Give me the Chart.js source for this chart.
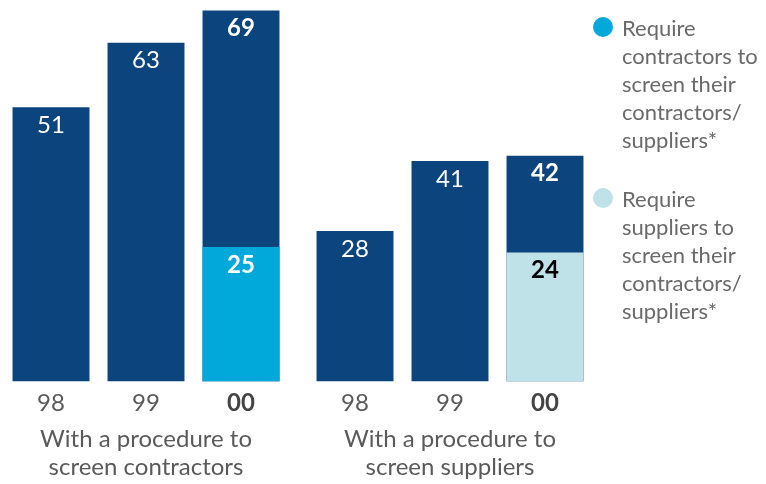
<!DOCTYPE html>
<html>
<head>
<meta charset="utf-8">
<script src="https://cdn.jsdelivr.net/npm/chart.js@4"></script>
<style>
  html, body { margin: 0; padding: 0; background: #ffffff; }
  #wrap { position: relative; width: 766px; height: 484px; overflow: hidden; font-family: Lato, "Open Sans", sans-serif; }
  .cv { position: absolute; top: 0; }
  #legend { position: absolute; left: 592px; top: 14px; width: 174px; }
  .item { position: relative; padding-left: 30px; font-size: 22px; line-height: 28px; color: #6a6a6a; margin-bottom: 31px; }
  .dot { position: absolute; left: 1px; top: 3px; width: 20px; height: 20px; border-radius: 50%; }
</style>
</head>
<body>
<div id="wrap">
  <canvas id="c1" class="cv" style="left:0px" width="292" height="484"></canvas>
  <canvas id="c2" class="cv" style="left:304px" width="292" height="484"></canvas>
  <div id="legend"></div>
</div>
<script>
// ---- data ----
const years = ['98', '99', '00'];
const contractorsWithProcedure = [51, 63, 69];
const contractorsRequireScreening = [null, null, 25];
const suppliersWithProcedure = [28, 41, 42];
const suppliersRequireScreening = [null, null, 24];
const groupTitles = [
  ['With a procedure to', 'screen contractors'],
  ['With a procedure to', 'screen suppliers']
];
const legendLabels = [
  ['Require', 'contractors to', 'screen their', 'contractors/', 'suppliers*'],
  ['Require', 'suppliers to', 'screen their', 'contractors/', 'suppliers*']
];

// ---- styles ----
const NAVY = '#0c457d';
const CYAN = '#00a9d9';
const LIGHT = '#bfe1e8';
const FONT = 'Lato, "Open Sans", sans-serif';

const valueLabels = {
  id: 'valueLabels',
  afterDatasetsDraw(chart) {
    const ctx = chart.ctx;
    ctx.save();
    ctx.textAlign = 'center';
    ctx.textBaseline = 'middle';
    chart.data.datasets.forEach((ds, di) => {
      const meta = chart.getDatasetMeta(di);
      meta.data.forEach((bar, i) => {
        const v = ds.data[i];
        if (v === null || v === undefined) return;
        const bold = i === years.length - 1;
        ctx.font = (bold ? 'bold ' : '') + '24px ' + FONT;
        ctx.fillStyle = ds.labelColor || '#ffffff';
        ctx.fillText(String(v), bar.x, bar.y + 18);
      });
    });
    ctx.restore();
  }
};

function makeChart(id, totals, parts, partColor, partLabelColor, title) {
  return new Chart(document.getElementById(id), {
    type: 'bar',
    data: {
      labels: years,
      datasets: [
        { data: parts, backgroundColor: partColor, labelColor: partLabelColor, grouped: false, order: 1 },
        { data: totals, backgroundColor: NAVY, labelColor: '#ffffff', grouped: false, order: 2 }
      ]
    },
    options: {
      responsive: false,
      animation: false,
      events: [],
      barPercentage: 0.81,
      categoryPercentage: 1.0,
      layout: { padding: { left: 3.5, right: 3.5, top: 5, bottom: 2 } },
      plugins: { legend: { display: false }, tooltip: { enabled: false } },
      scales: {
        y: { display: false, min: 0, max: 70 },
        x: {
          grid: { display: false, drawTicks: false },
          border: { display: false },
          ticks: {
            padding: 7,
            color: (c) => c.index === 2 ? '#444444' : '#5a5a5a',
            font: (c) => ({ family: FONT, size: 24, weight: c.index === 2 ? 'bold' : 'normal', lineHeight: 1.2 })
          },
          title: {
            display: true,
            text: title,
            color: '#5a5a5a',
            font: { family: FONT, size: 24, lineHeight: 1.2 },
            padding: { top: 0, bottom: 0 }
          }
        }
      }
    },
    plugins: [valueLabels]
  });
}

makeChart('c1', contractorsWithProcedure, contractorsRequireScreening, CYAN, '#ffffff', groupTitles[0]);
makeChart('c2', suppliersWithProcedure, suppliersRequireScreening, LIGHT, '#000000', groupTitles[1]);

// ---- legend ----
const legend = document.getElementById('legend');
[CYAN, LIGHT].forEach((col, k) => {
  const item = document.createElement('div');
  item.className = 'item';
  const dot = document.createElement('span');
  dot.className = 'dot';
  dot.style.background = col;
  item.appendChild(dot);
  legendLabels[k].forEach(line => {
    const d = document.createElement('div');
    d.textContent = line;
    item.appendChild(d);
  });
  legend.appendChild(item);
});
</script>
</body>
</html>
